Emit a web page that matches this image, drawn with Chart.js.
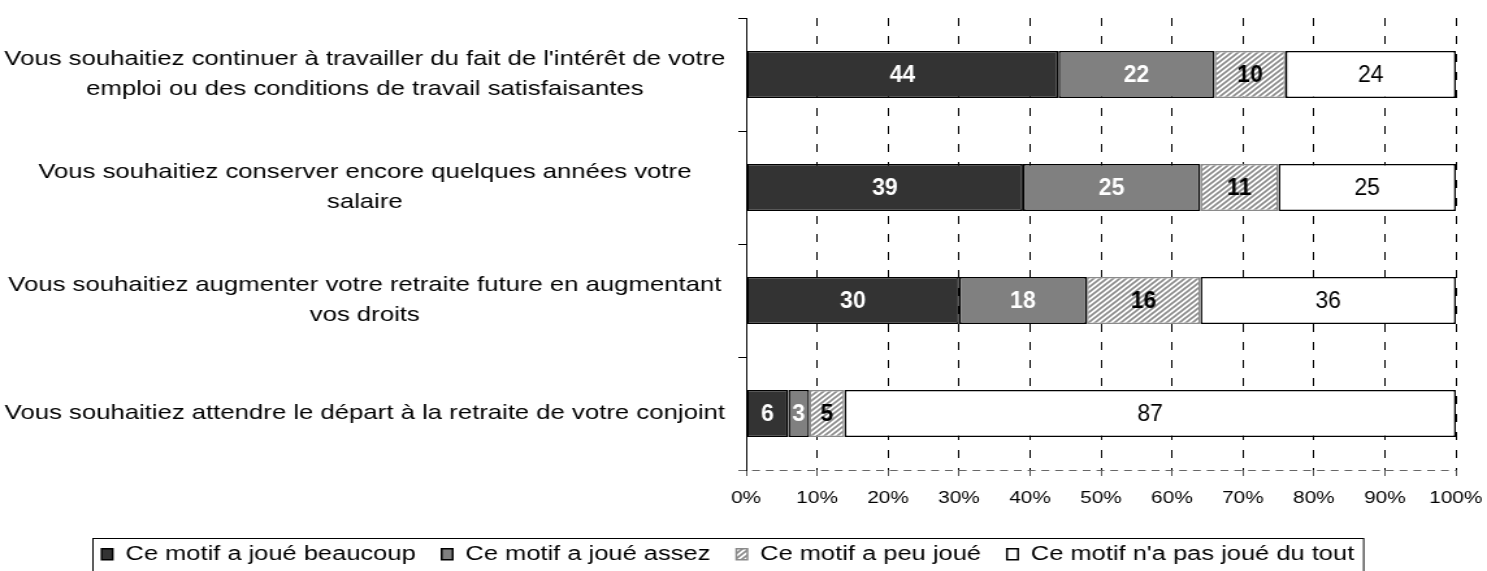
<!DOCTYPE html>
<html>
<head>
<meta charset="utf-8">
<script src="https://cdn.jsdelivr.net/npm/chart.js@4/dist/chart.umd.min.js"></script>
<style>
  html, body { margin: 0; padding: 0; background: #fff; overflow: hidden; }
</style>
</head>
<body>
<!-- the reference is stretched sideways, so the canvas is drawn narrower and widened by css -->
<canvas id="myChart" width="1144" height="571" style="width:1487px;height:571px;display:block"></canvas>
<script>
const categories = [
    ["Vous souhaitiez continuer à travailler du fait de l'intérêt de votre", "emploi ou des conditions de travail satisfaisantes"],
    ["Vous souhaitiez conserver encore quelques années votre", "salaire"],
    ["Vous souhaitiez augmenter votre retraite future en augmentant", "vos droits"],
    "Vous souhaitiez attendre le départ à la retraite de votre conjoint"
]
const seriesNames = ['Ce motif a joué beaucoup', 'Ce motif a joué assez', 'Ce motif a peu joué', "Ce motif n'a pas joué du tout"]
const beaucoup = [44, 39, 30, 6]
const assez = [22, 25, 18, 3]
const peu = [10, 11, 16, 5]
const pasDuTout = [24, 25, 36, 87]

const stretch = 1487 / 1144

// rows do not always add up to 100, the bars are drawn as shares of the row
const totals = categories.map((c, i) => beaucoup[i] + assez[i] + peu[i] + pasDuTout[i])
function share(values) {
    return values.map((v, i) => v * 100 / totals[i])
}

function hachures() {
    let c = document.createElement('canvas')
    c.width = 5
    c.height = 5
    let g = c.getContext('2d')
    g.fillStyle = '#fff'
    g.fillRect(0, 0, 5, 5)
    g.strokeStyle = '#8a8a8a'
    g.lineWidth = 1.6
    g.beginPath()
    g.moveTo(-1, 6); g.lineTo(6, -1)
    g.moveTo(-1, 1); g.lineTo(1, -1)
    g.moveTo(4, 6); g.lineTo(6, 4)
    g.stroke()
    return g.createPattern(c, 'repeat')
}

// values written on the bars (drawn unstretched)
const etiquettes = {
    id: 'etiquettes',
    afterDatasetsDraw(chart) {
        let ctx = chart.ctx
        chart.data.datasets.forEach((ds, d) => {
            chart.getDatasetMeta(d).data.forEach((bar, i) => {
                ctx.save()
                ctx.translate((bar.x + bar.base) / 2, bar.y + 1)
                ctx.scale(1 / stretch, 1)
                ctx.font = (ds.labelBold ? 'bold ' : '') + '23px "Liberation Sans", Arial, sans-serif'
                ctx.fillStyle = ds.labelColor
                ctx.textAlign = 'center'
                ctx.textBaseline = 'middle'
                ctx.fillText(ds.rawValues[i], 0, 0)
                ctx.restore()
            })
        })
    }
}

// dashed x axis line and frame around the legend
const cadres = {
    id: 'cadres',
    afterDraw(chart) {
        let ctx = chart.ctx
        let area = chart.chartArea
        ctx.save()
        ctx.strokeStyle = '#666'
        ctx.lineWidth = 1
        ctx.setLineDash([6, 4.6])
        ctx.beginPath()
        ctx.moveTo(area.left - 6, Math.round(area.bottom) + 0.5)
        ctx.lineTo(area.right, Math.round(area.bottom) + 0.5)
        ctx.stroke()
        ctx.restore()

        let hb = chart.legend.legendHitBoxes
        if (!hb || !hb.length) return
        let first = hb[0]
        let last = hb[hb.length - 1]
        ctx.save()
        ctx.strokeStyle = '#000'
        ctx.lineWidth = 1
        ctx.strokeRect(Math.round(first.left - 7) + 0.5, 538.5, last.left + last.width + 7 - first.left + 7, 40)
        ctx.restore()
    }
}

Chart.defaults.font.family = '"Liberation Sans", Arial, sans-serif'
Chart.defaults.color = '#000'

let ctx = document.getElementById('myChart').getContext('2d')
let chart = new Chart(ctx, {
    type: 'bar',
    data: {
        labels: categories,
        datasets: [{
            label: seriesNames[0],
            data: share(beaucoup),
            rawValues: beaucoup,
            backgroundColor: '#333333',
            borderColor: '#000',
            labelColor: '#fff',
            labelBold: true
        }, {
            label: seriesNames[1],
            data: share(assez),
            rawValues: assez,
            backgroundColor: '#808080',
            borderColor: '#000',
            labelColor: '#fff',
            labelBold: true
        }, {
            label: seriesNames[2],
            data: share(peu),
            rawValues: peu,
            backgroundColor: hachures(),
            borderColor: '#8a8a8a',
            labelColor: '#000',
            labelBold: true
        }, {
            label: seriesNames[3],
            data: share(pasDuTout),
            rawValues: pasDuTout,
            backgroundColor: '#ffffff',
            borderColor: '#000',
            labelColor: '#000',
            labelBold: false
        }]
    },
    options: {
        indexAxis: 'y',
        responsive: false,
        devicePixelRatio: 1,
        animation: false,
        layout: { padding: { left: 0, right: 24, top: 18, bottom: -3 } },
        datasets: {
            bar: {
                borderWidth: 1.5,
                borderSkipped: false,
                categoryPercentage: 1,
                barPercentage: 0.415
            }
        },
        scales: {
            x: {
                stacked: true,
                min: 0,
                max: 100,
                ticks: {
                    stepSize: 10,
                    padding: 13,
                    font: { size: 16 },
                    callback: (v) => v + '%'
                },
                grid: {
                    color: '#000',
                    lineWidth: 1,
                    tickLength: 6,
                    tickColor: '#555'
                },
                border: { display: false, dash: [8, 10] },
                afterFit(scale) {
                    scale.height = 571 + 3 - 470 - scale.chart.legend.height
                    scale.paddingLeft = 0
                    scale.paddingRight = 0
                }
            },
            y: {
                stacked: true,
                ticks: {
                    crossAlign: 'center',
                    padding: 10,
                    font: { size: 19.8, lineHeight: '30px' }
                },
                grid: {
                    offset: true,
                    drawOnChartArea: false,
                    drawTicks: true,
                    tickLength: 6,
                    color: '#000'
                },
                border: { display: true, color: '#000', width: 1 },
                afterFit(scale) {
                    scale.width = 574
                    scale.paddingTop = 0
                    scale.paddingBottom = 0
                }
            }
        },
        plugins: {
            legend: {
                position: 'bottom',
                labels: {
                    boxWidth: 8.5,
                    boxHeight: 11,
                    padding: 20,
                    font: { size: 19.6 }
                }
            },
            tooltip: { enabled: false }
        }
    },
    plugins: [etiquettes, cadres]
})
</script>
</body>
</html>
